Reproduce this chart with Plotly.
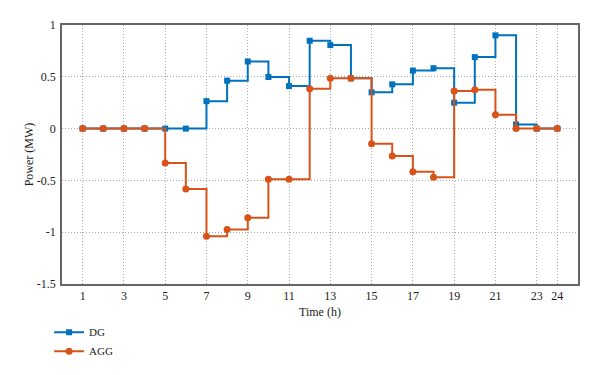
import plotly.graph_objects as go

hours = list(range(1, 25))
dg = [0, 0, 0, 0, 0, 0, 0.265, 0.463, 0.648, 0.498, 0.41, 0.848,
      0.806, 0.485, 0.35, 0.427, 0.56, 0.583, 0.25, 0.69, 0.90, 0.04, 0, 0]
agg = [0, 0, 0, 0, -0.333, -0.583, -1.04, -0.974, -0.86, -0.49, -0.49, 0.385,
       0.485, 0.485, -0.146, -0.265, -0.417, -0.47, 0.362, 0.376, 0.133, 0, 0, 0]

x_ticks = [1, 3, 5, 7, 9, 11, 13, 15, 17, 19, 21, 23, 24]
y_ticks = [1, 0.5, 0, -0.5, -1, -1.5]
y_ticktext = ["1", "0.5", "0", "-0.5", "-1", "-1.5"]

BLUE = "#0072BD"
ORANGE = "#D95319"
FONT = "Liberation Serif"

fig = go.Figure()
fig.add_trace(go.Scatter(
    x=hours, y=dg, name="DG", mode="lines+markers", line_shape="hv",
    line=dict(color=BLUE, width=2),
    marker=dict(symbol="square", size=6, color=BLUE)))
fig.add_trace(go.Scatter(
    x=hours, y=agg, name="AGG", mode="lines+markers", line_shape="hv",
    line=dict(color=ORANGE, width=2),
    marker=dict(symbol="circle", size=7, color=ORANGE)))

axis_common = dict(
    showline=True, mirror=True, linecolor="#666666", linewidth=1.5,
    ticks="",
    showgrid=True, gridcolor="#aaaaaa", griddash="1px,2px", gridwidth=1,
    zeroline=False, tickfont=dict(family=FONT, size=12, color="#222"),
    automargin=False,
)

fig.update_xaxes(range=[0, 25], tickvals=x_ticks, ticklabelstandoff=0,
                 title=dict(text="Time (h)", font=dict(family=FONT, size=12, color="#222"), standoff=5),
                 **axis_common)
fig.update_yaxes(range=[-1.5, 1], tickvals=y_ticks, ticktext=y_ticktext, ticklabelstandoff=2,
                 title=dict(text="Power (MW)", font=dict(family=FONT, size=12, color="#222"), standoff=1),
                 **axis_common)

fig.update_layout(
    width=600, height=375,
    margin=dict(l=62, r=22, t=25, b=91, autoexpand=False),
    plot_bgcolor="white", paper_bgcolor="white",
    font=dict(family=FONT, size=12, color="#222"),
    legend=dict(x=-0.025, y=-0.13, xanchor="left", yanchor="top",
                bgcolor="rgba(0,0,0,0)", font=dict(family=FONT, size=11),
                tracegroupgap=0, itemwidth=30),
    showlegend=True,
)

fig.write_html("out.html", config={"displayModeBar": False},
               post_script="document.body.style.margin='0';")
